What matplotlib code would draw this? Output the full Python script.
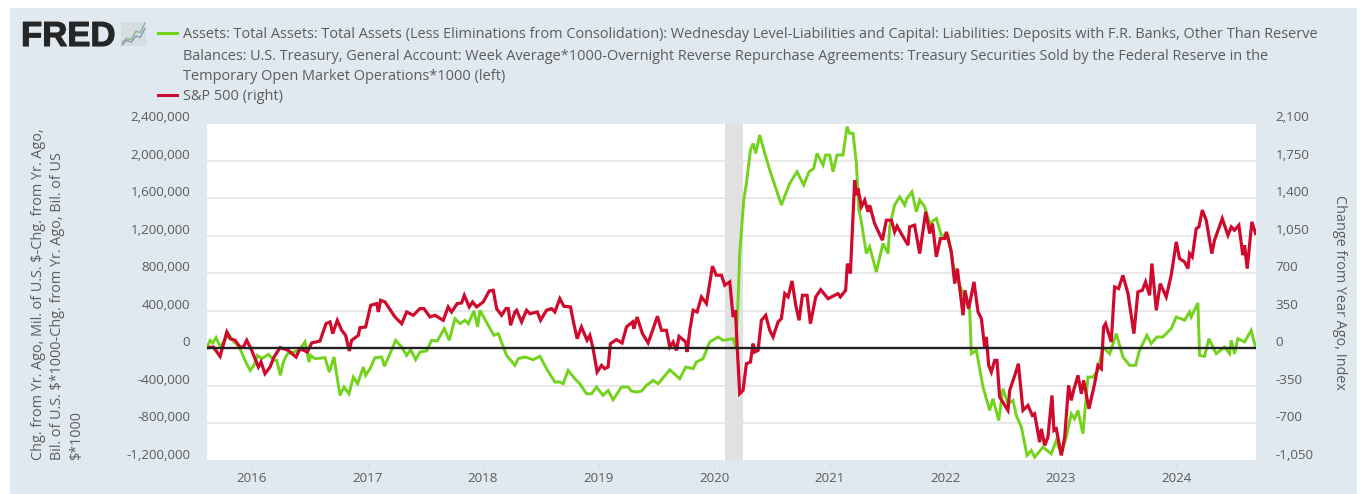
import matplotlib
matplotlib.use("Agg")
import matplotlib.pyplot as plt
import matplotlib.patheffects as pe
from matplotlib.patches import Rectangle
from matplotlib.transforms import ScaledTranslation

# left series, thousands
green_years = [2015.613, 2015.637, 2015.660, 2015.688, 2015.723, 2015.758, 2015.795, 2015.838, 2015.890, 2015.939, 2015.983,
    2016.017, 2016.046, 2016.084, 2016.141, 2016.190, 2016.213, 2016.245, 2016.271, 2016.306, 2016.358, 2016.409, 2016.458,
    2016.493, 2016.507, 2016.545, 2016.631, 2016.669, 2016.709, 2016.761, 2016.796, 2016.839, 2016.877, 2016.914, 2016.963, 2016.983,
    2017.021, 2017.064, 2017.122, 2017.145, 2017.194, 2017.243, 2017.295, 2017.338, 2017.373, 2017.416, 2017.453, 2017.511,
    2017.554, 2017.603, 2017.664, 2017.707, 2017.756, 2017.800, 2017.843, 2017.872, 2017.921, 2017.952, 2017.973,
    2018.036, 2018.094, 2018.131, 2018.203, 2018.275, 2018.304, 2018.362, 2018.405, 2018.434, 2018.492, 2018.549, 2018.621,
    2018.664, 2018.693, 2018.736, 2018.794, 2018.837, 2018.895, 2018.938, 2018.981,
    2019.039, 2019.082, 2019.125, 2019.198, 2019.255, 2019.284, 2019.327, 2019.371, 2019.414, 2019.472, 2019.515, 2019.616,
    2019.702, 2019.754, 2019.818, 2019.846, 2019.904, 2019.962,
    2020.034, 2020.077, 2020.164, 2020.187, 2020.207, 2020.221, 2020.256, 2020.279, 2020.314, 2020.337, 2020.360, 2020.394,
    2020.438, 2020.481, 2020.539, 2020.582, 2020.625, 2020.654, 2020.717, 2020.775, 2020.821, 2020.862, 2020.890, 2020.942, 2020.965,
    2021.000, 2021.029, 2021.063, 2021.115, 2021.150, 2021.173, 2021.202, 2021.231, 2021.251, 2021.274, 2021.317, 2021.346,
    2021.404, 2021.461, 2021.505, 2021.519, 2021.562, 2021.606, 2021.649, 2021.669, 2021.712, 2021.750, 2021.779, 2021.822,
    2021.866, 2021.923, 2021.966, 2022.024, 2022.067, 2022.096, 2022.154, 2022.212, 2022.226, 2022.269, 2022.327, 2022.385,
    2022.413, 2022.463, 2022.500, 2022.543, 2022.587, 2022.615, 2022.659, 2022.708, 2022.745, 2022.774, 2022.846, 2022.918, 2022.961,
    2023.005, 2023.048, 2023.091, 2023.120, 2023.149, 2023.192, 2023.235, 2023.279, 2023.322, 2023.365, 2023.423, 2023.481,
    2023.538, 2023.596, 2023.648, 2023.682, 2023.746, 2023.783, 2023.832, 2023.884, 2023.956,
    2024.000, 2024.072, 2024.115, 2024.129, 2024.187, 2024.202, 2024.245, 2024.282, 2024.346, 2024.418, 2024.461, 2024.476,
    2024.504, 2024.533, 2024.591, 2024.648, 2024.686]
green_vals = [14, 85, 57, 114, 21, 68, 156, 78, 14, -128, -235,
    -181, -75, -110, -64, -128, -128, -288, -146, -57, -39, -21, 68,
    -146, -75, -110, -100, -252, -92, -501, -412, -484, -306, -377, -199, -288,
    -217, -100, -92, -192, -57, 85, 14, -75, -14, -121, -39, -28,
    85, 78, 210, 85, 316, 263, 299, 263, 398, 228, 405,
    263, 139, 156, -75, -181, -110, -92, -110, -121, -85, -217, -359,
    -359, -377, -235, -324, -377, -484, -484, -412,
    -501, -448, -548, -412, -412, -455, -466, -455, -395, -341, -377, -228,
    -324, -199, -217, -146, -110, 68,
    121, 85, 103, 14, 512, 1010, 1579, 1757, 2112, 2183, 2077, 2272,
    2077, 1899, 1686, 1526, 1668, 1757, 1881, 1739, 1881, 1917, 2077, 1952, 2059,
    2059, 1881, 2059, 2059, 2361, 2290, 2290, 1970, 1490, 1348, 1010, 1081,
    814, 1117, 1010, 1294, 1526, 1614, 1526, 1597, 1668, 1454, 1579, 1508,
    1330, 1383, 1205, 1205, 903, 761, 583, 405, -57, -21, -412, -661,
    -537, -768, -430, -590, -555, -715, -839, -1141, -1088, -1159, -1053, -1124, -981,
    -1124, -946, -697, -750, -661, -910, -306, -306, -235, 14, -57, 156,
    -92, -181, -181, -21, 139, 50, 121, 121, 210,
    334, 299, 388, 334, 484, -75, -85, 103, -57, 14, -57, 85,
    -57, 103, 68, 192, 14]

# right series, index points
red_years = [2015.613, 2015.665, 2015.723, 2015.781, 2015.810, 2015.853, 2015.896, 2015.925, 2015.954, 2015.997,
    2016.055, 2016.078, 2016.112, 2016.156, 2016.190, 2016.242, 2016.314, 2016.381, 2016.415, 2016.479, 2016.516, 2016.588,
    2016.640, 2016.675, 2016.698, 2016.738, 2016.776, 2016.810, 2016.842, 2016.862, 2016.920, 2016.934, 2016.983,
    2017.027, 2017.079, 2017.093, 2017.113, 2017.151, 2017.237, 2017.295, 2017.338, 2017.396, 2017.453, 2017.488, 2017.540,
    2017.583, 2017.655, 2017.698, 2017.727, 2017.776, 2017.814, 2017.837, 2017.880, 2017.909, 2017.944,
    2018.001, 2018.053, 2018.088, 2018.117, 2018.160, 2018.198, 2018.218, 2018.238, 2018.275, 2018.290, 2018.333, 2018.376,
    2018.405, 2018.469, 2018.497, 2018.549, 2018.593, 2018.621, 2018.664, 2018.699, 2018.756, 2018.785, 2018.814, 2018.851,
    2018.900, 2018.924, 2018.952, 2018.987, 2019.025, 2019.053, 2019.082, 2019.102, 2019.154, 2019.203, 2019.241, 2019.293,
    2019.304, 2019.333, 2019.379, 2019.428, 2019.472, 2019.509, 2019.544, 2019.587, 2019.616, 2019.645, 2019.673, 2019.696,
    2019.754, 2019.766, 2019.789, 2019.818, 2019.852, 2019.890, 2019.933, 2019.985, 2020.019, 2020.063, 2020.092, 2020.135,
    2020.164, 2020.184, 2020.201, 2020.221, 2020.250, 2020.279, 2020.314, 2020.337, 2020.351, 2020.380, 2020.409, 2020.446,
    2020.481, 2020.510, 2020.553, 2020.582, 2020.611, 2020.640, 2020.674, 2020.706, 2020.735, 2020.764, 2020.804, 2020.833,
    2020.879, 2020.922, 2020.986, 2021.072, 2021.092, 2021.138, 2021.153, 2021.179, 2021.216, 2021.231, 2021.245, 2021.274,
    2021.303, 2021.332, 2021.346, 2021.389, 2021.456, 2021.490, 2021.534, 2021.562, 2021.583, 2021.678, 2021.692, 2021.735,
    2021.779, 2021.831, 2021.866, 2021.889, 2021.923, 2021.958, 2021.995, 2022.010, 2022.053, 2022.082, 2022.105, 2022.154,
    2022.171, 2022.203, 2022.249, 2022.284, 2022.313, 2022.341, 2022.356, 2022.376, 2022.399, 2022.428, 2022.448, 2022.471,
    2022.543, 2022.558, 2022.607, 2022.633, 2022.673, 2022.716, 2022.754, 2022.774, 2022.817, 2022.832, 2022.861, 2022.889,
    2022.924, 2022.941, 2022.961, 2023.005, 2023.034, 2023.068, 2023.091, 2023.111, 2023.149, 2023.178, 2023.198, 2023.244,
    2023.293, 2023.322, 2023.351, 2023.371, 2023.388, 2023.437, 2023.466, 2023.501, 2023.538, 2023.582, 2023.633, 2023.668,
    2023.706, 2023.734, 2023.769, 2023.789, 2023.827, 2023.861, 2023.913, 2023.956, 2024.000, 2024.028, 2024.072, 2024.101,
    2024.115, 2024.138, 2024.173, 2024.196, 2024.225, 2024.259, 2024.308, 2024.331, 2024.398, 2024.447, 2024.476, 2024.504,
    2024.542, 2024.576, 2024.591, 2024.614, 2024.654, 2024.686]
red_vals = [6, 12, -75, 152, 90, 75, 12, 12, 75, -19,
    -174, -128, -236, -174, -81, 6, -19, -81, -3, -34, 50, 68,
    230, 246, 137, 261, 168, 121, -25, 75, 121, 193, 199,
    401, 417, 339, 448, 432, 292, 230, 339, 308, 370, 370, 292,
    308, 261, 386, 339, 417, 423, 494, 386, 432, 386,
    432, 535, 541, 370, 308, 370, 370, 215, 339, 355, 246, 355,
    323, 339, 261, 355, 370, 339, 463, 392, 386, 230, 90, 199,
    75, 121, -3, -221, -159, -190, -174, 44, 81, 50, 199, 246,
    183, 292, 137, 50, 183, 299, 168, 168, 12, 59, -19, 112,
    59, -34, 168, 355, 339, 479, 417, 765, 681, 681, 588, 619,
    292, 355, -19, -423, -392, -143, -128, 44, -34, -19, 261, 308,
    168, 106, 246, 277, 510, 479, 628, 401, 261, 494, 494, 230,
    479, 547, 463, 510, 479, 541, 790, 697, 1567, 1427, 1490, 1319,
    1381, 1272, 1334, 1163, 1008, 1194, 1194, 1085, 1138, 961, 1132, 1148,
    883, 1272, 1070, 1163, 852, 1023, 1023, 1085, 899, 603, 743, 308,
    541, 370, 619, 339, 277, 12, 106, -159, -221, -112, -112, -454,
    -578, -392, -236, -143, -578, -532, -625, -610, -874, -750, -905, -827,
    -439, -765, -750, -998, -827, -345, -485, -392, -252, -423, -299, -563,
    -330, -159, -190, 199, 230, 59, 572, 557, 681, 510, 137, 526,
    541, 619, 494, 790, 355, 603, 479, 681, 992, 837, 805, 743,
    883, 852, 1116, 1132, 1288, 1194, 883, 1008, 1210, 1054, 1132, 1101,
    1148, 868, 961, 743, 1179, 1070]

year_ticks = [2016, 2017, 2018, 2019, 2020, 2021, 2022, 2023, 2024]
left_ticks = [-1200000, -800000, -400000, 0, 400000, 800000, 1200000, 1600000, 2000000, 2400000]
right_ticks = [-1050, -700, -350, 0, 350, 700, 1050, 1400, 1750, 2100]
recession = [2020.092, 2020.25]

legend_green = ["Assets: Total Assets: Total Assets (Less Eliminations from Consolidation): Wednesday Level-Liabilities and Capital: Liabilities: Deposits with F.R. Banks, Other Than Reserve",
    "Balances: U.S. Treasury, General Account: Week Average*1000-Overnight Reverse Repurchase Agreements: Treasury Securities Sold by the Federal Reserve in the",
    "Temporary Open Market Operations*1000 (left)"]
legend_red = "S&P 500 (right)"
left_label = "Chg. from Yr. Ago, Mil. of U.S. \\$-Chg. from Yr. Ago,\nBil. of U.S. \\$*1000-Chg. from Yr. Ago, Bil. of US\n\\$*1000"
right_label = "Change from Year Ago, Index"

BG = "#e1e9f0"
GREEN = "#72d21c"
RED = "#cf0a2c"
TXT = "#5c5c5c"
W, H = 1363, 494

plt.rcParams["font.family"] = ["Open Sans", "DejaVu Sans"]

fig = plt.figure(figsize=(W / 100, H / 100), dpi=100, facecolor="white")
fig.add_artist(Rectangle((10 / W, 0), 1347 / W, 486 / H, transform=fig.transFigure, facecolor=BG, edgecolor="none", zorder=-5))

ax = fig.add_axes([207 / W, 1 - 461 / H, 1049 / W, 338 / H], facecolor="white")
ax.set_xlim(2015.61, 2024.69)
ax.set_ylim(-1200000, 2400000)
ax.axvspan(recession[0], recession[1], color="#e1e1e1", lw=0, zorder=1)
ax.grid(axis="y", color="#e8e8e8", lw=1.4, zorder=0)
ax.set_axisbelow(True)
ax.plot(green_years, [v * 1000 for v in green_vals], color=GREEN, lw=2.1, solid_joinstyle="miter", zorder=3)
ax.set_xticks(year_ticks)
ax.set_yticks(left_ticks)
ax.set_yticklabels([f"{v:,}" for v in left_ticks])
ax.tick_params(axis="x", length=5, color="#d3dbe3", width=0.8, labelsize=9.6, labelcolor=TXT, pad=3)
ax.tick_params(axis="y", length=0, labelsize=9.6, labelcolor=TXT, pad=12)

ax2 = ax.twinx()
ax2.set_ylim(-1050, 2100)
ax2.plot(red_years, red_vals, color=RED, lw=2.3, solid_joinstyle="miter", zorder=4)
ax2.axhline(0, color="#222222", lw=1.7, zorder=5)
ax2.set_yticks(right_ticks)
ax2.set_yticklabels([f"{v:,}" for v in right_ticks])
ax2.tick_params(axis="y", length=0, labelsize=9.6, labelcolor=TXT, pad=14)

up = ScaledTranslation(0, 7 / 100, fig.dpi_scale_trans)
for lab in ax.get_yticklabels() + ax2.get_yticklabels():
    lab.set_transform(lab.get_transform() + up)

for a in (ax, ax2):
    for s in a.spines.values():
        s.set_visible(False)

# header
fig.text(21 / W, 1 - 46 / H, "FRED", family="Liberation Sans", weight="bold", fontsize=25, color="#262626", va="baseline",
         path_effects=[pe.withStroke(linewidth=0.8, foreground="#262626")])
icon = fig.add_axes([121 / W, 1 - 46 / H, 25 / W, 24 / H], facecolor="#d5dde1")
icon.plot([0, 1, 2, 3, 4, 5], [0.5, 1.2, 1.0, 2.2, 2.0, 3.4], color="#8fb58f", lw=1)
icon.plot([0, 1, 2, 3, 4, 5], [0.2, 0.9, 0.6, 1.5, 1.3, 2.6], color="#7f9cb5", lw=1)
icon.set_xticks([])
icon.set_yticks([])
for s in icon.spines.values():
    s.set_visible(False)

fig.add_artist(plt.Line2D([158 / W, 177 / W], [1 - 33 / H] * 2, color=GREEN, lw=2.2))
fig.add_artist(plt.Line2D([158 / W, 177 / W], [1 - 95 / H] * 2, color=RED, lw=2.2))
for i, line in enumerate(legend_green):
    fig.text(183 / W, 1 - (35 + i * 21) / H, line, fontsize=10.44, color=TXT, va="center")
fig.text(183 / W, 1 - 97 / H, legend_red, fontsize=10.44, color=TXT, va="center")

fig.text(31 / W, 1 - 460 / H, left_label, rotation=90, fontsize=10.4, color=TXT, ha="left", va="bottom", linespacing=1.37, multialignment="left")
fig.text(1340 / W, 1 - 292 / H, right_label, rotation=-90, fontsize=10.4, color=TXT, ha="center", va="center")

fig.savefig("out.png", dpi=100, facecolor="white")
